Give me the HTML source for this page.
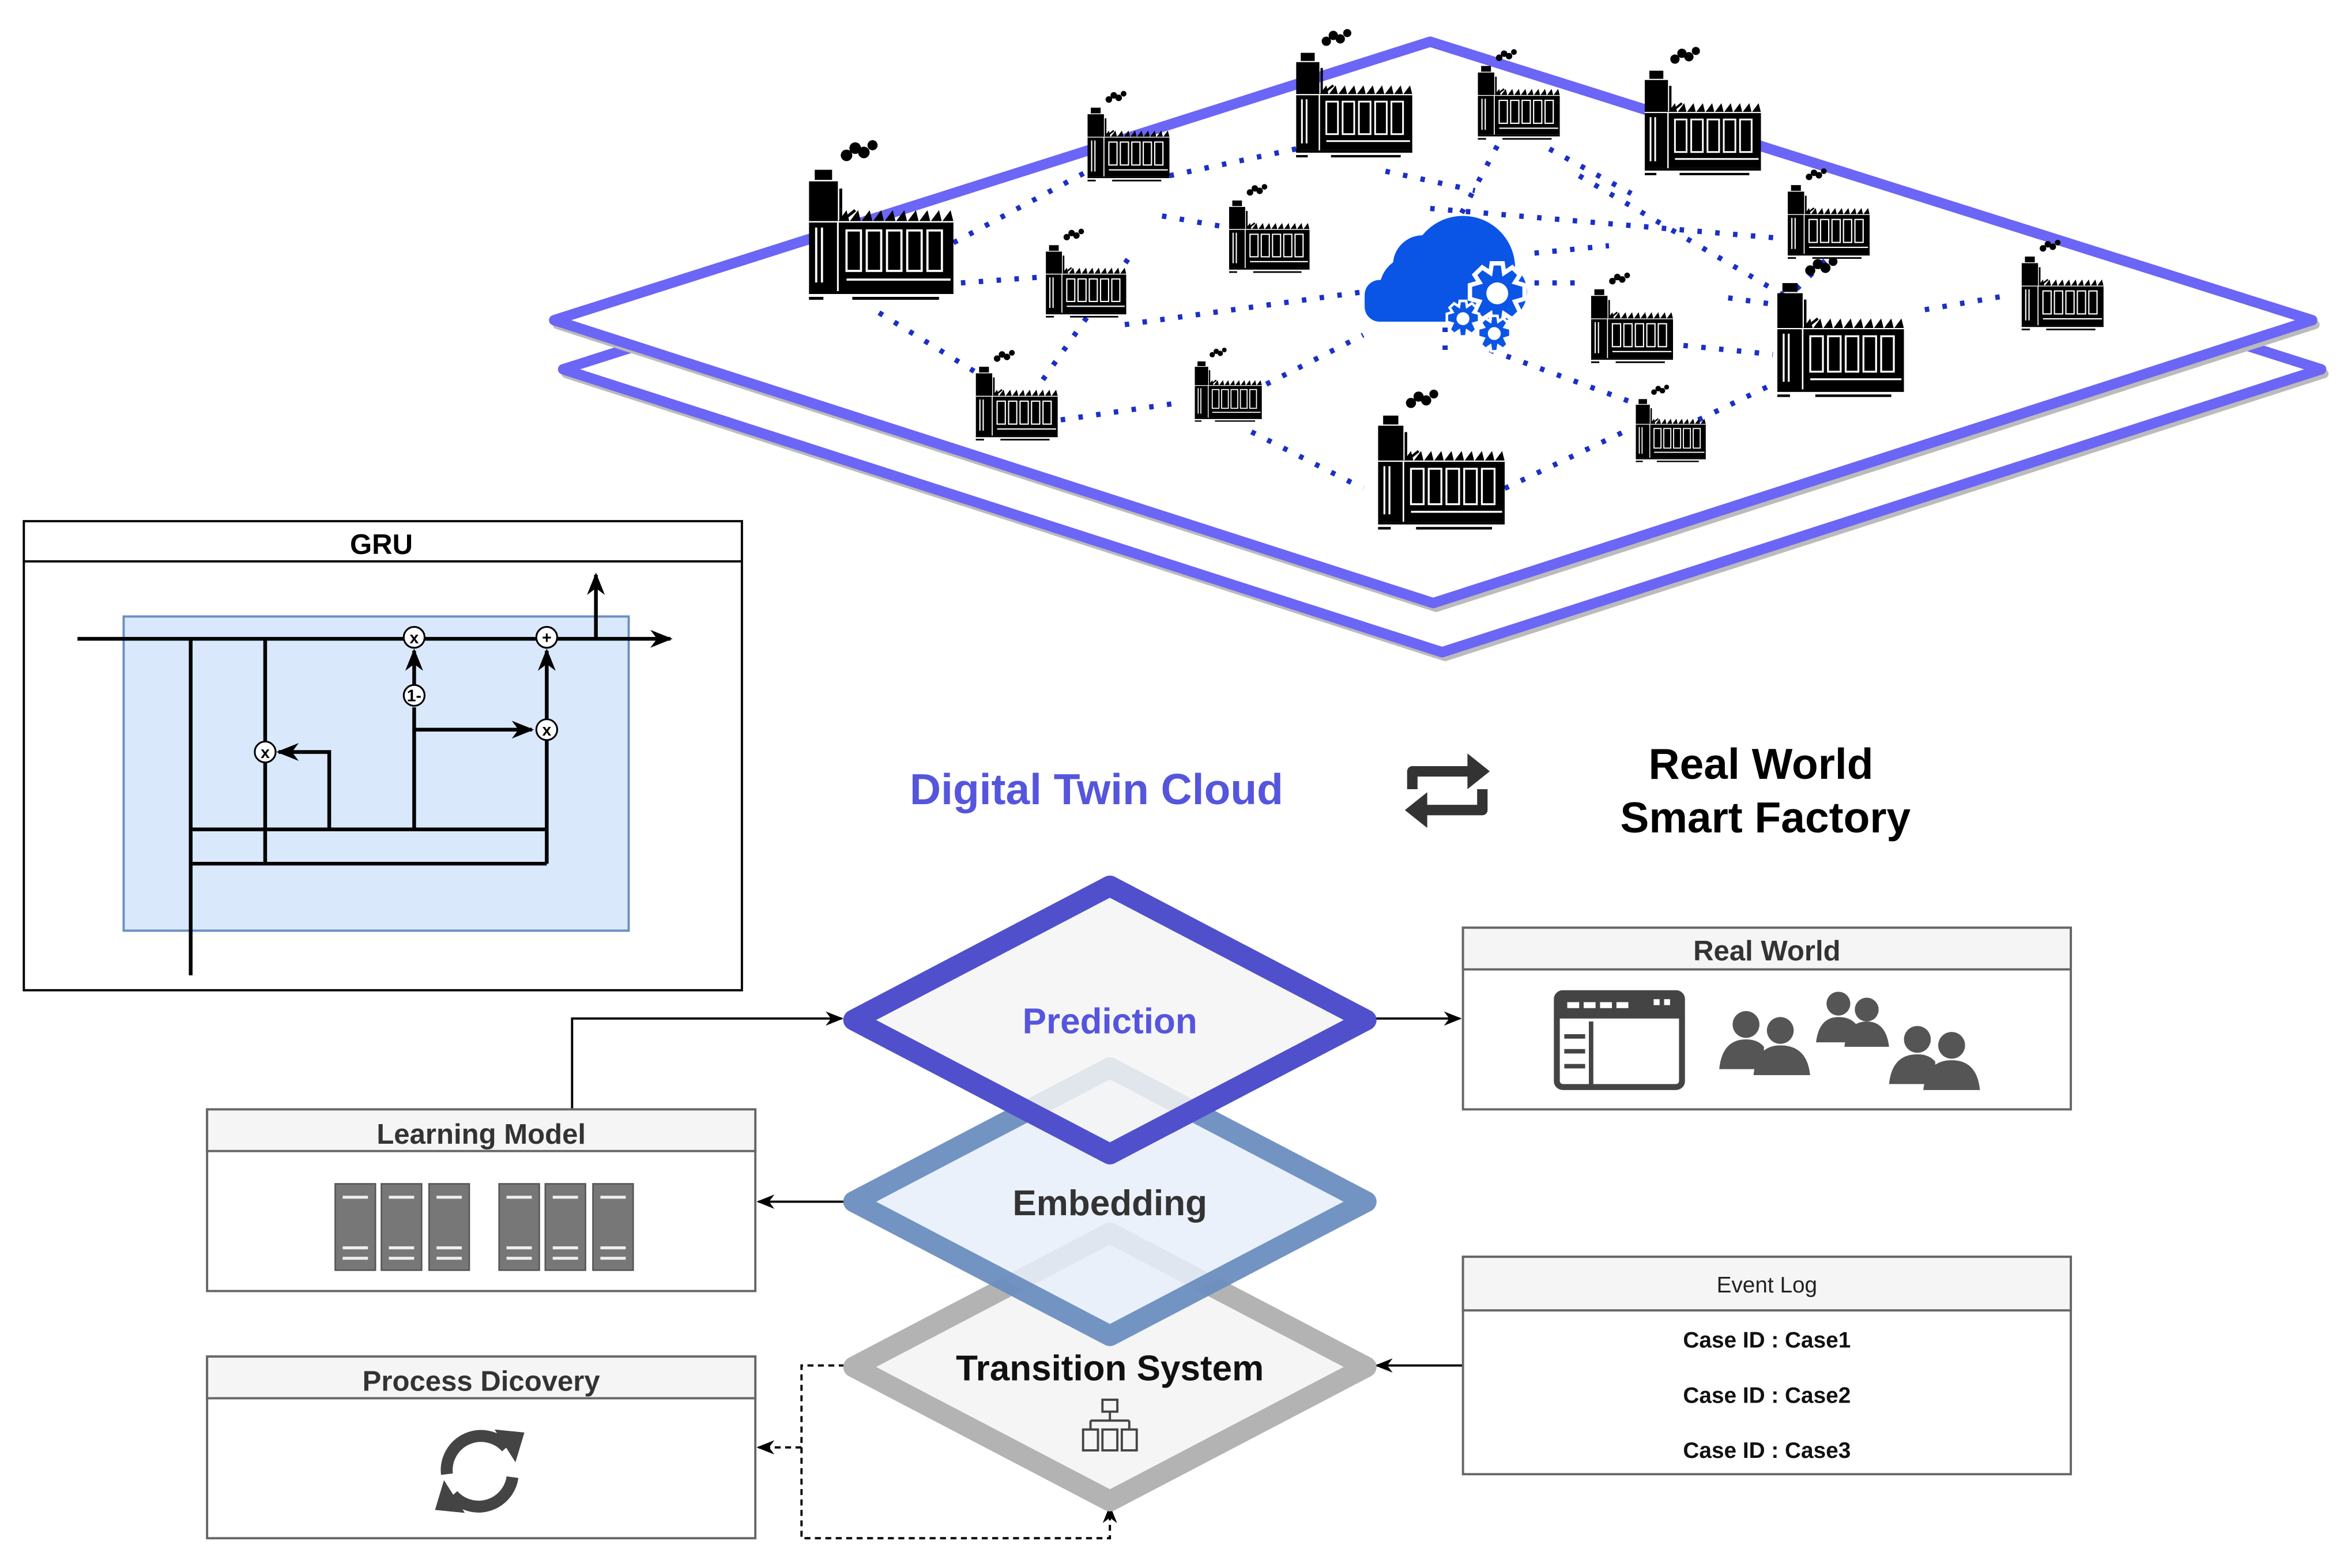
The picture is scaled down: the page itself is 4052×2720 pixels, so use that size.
<!DOCTYPE html>
<html><head><meta charset="utf-8"><style>
html,body{margin:0;padding:0;background:#fff;}
svg{display:block;}
text{font-family:"Liberation Sans",Arial,sans-serif;}
</style></head><body>
<svg width="4052" height="2720" viewBox="0 0 1568 1053" preserveAspectRatio="none" xmlns="http://www.w3.org/2000/svg">
<defs>
<symbol id="f" viewBox="0 0 100 112">
<circle cx="26" cy="12" r="4"/><circle cx="32" cy="7" r="4"/><circle cx="38" cy="10" r="4"/><circle cx="44" cy="5" r="3.5"/>
<rect x="4" y="22" width="12" height="7"/>
<rect x="0" y="30" width="20" height="76"/>
<polyline points="22,35 22,58 32,50" fill="none" stroke="#000" stroke-width="2"/>
<polygon points="20,58 26,50 28,58 34,50 36,58 42,50 44,58 50,50 52,58 58,50 60,58 66,50 68,58 74,50 76,58 82,50 84,58 90,50 92,58 98,50 100,58"/>
<rect x="20" y="58" width="80" height="48"/>
<line x1="20" y1="58" x2="20" y2="106" stroke="#fff" stroke-width="1.2"/>
<line x1="0" y1="58" x2="100" y2="58" stroke="#fff" stroke-width="1"/>
<g fill="none" stroke="#fff" stroke-width="1.5">
<rect x="26" y="64" width="10" height="28"/><rect x="40" y="64" width="10" height="28"/><rect x="54" y="64" width="10" height="28"/><rect x="68" y="64" width="10" height="28"/><rect x="82" y="64" width="10" height="28"/>
<line x1="26" y1="98" x2="98" y2="98"/><line x1="5" y1="62" x2="5" y2="100"/><line x1="9" y1="62" x2="9" y2="100"/>
</g>
<rect x="-12" y="106" width="122" height="2"/><rect x="-15" y="110" width="25" height="2"/><rect x="30" y="110" width="60" height="2"/>
</symbol>
<symbol id="g" viewBox="-12 -12 24 24">
<g fill="#0a55e6" stroke="#fff" stroke-width="1.6">
<path d="M-2,-11 L2,-11 L2.5,-7.5 L5.5,-9.5 L8.3,-6.8 L6.5,-4 L10,-3 L10,2 L6.5,3 L8.3,6.8 L5.5,9.5 L2.5,7.5 L2,11 L-2,11 L-2.5,7.5 L-5.5,9.5 L-8.3,6.8 L-6.5,3 L-10,2 L-10,-3 L-6.5,-4 L-8.3,-6.8 L-5.5,-9.5 L-2.5,-7.5 Z"/>
<circle cx="0" cy="0" r="4" fill="#fff" stroke="none"/>
</g>
</symbol>
<marker id="a" viewBox="0 0 10 10" refX="9" refY="5" markerWidth="8" markerHeight="8" orient="auto"><path d="M0,1 L10,5 L0,9 L3,5z" fill="#000"/></marker>
<marker id="b" viewBox="0 0 10 10" refX="9" refY="5" markerWidth="6" markerHeight="6" orient="auto"><path d="M0,1 L10,5 L0,9 L3,5z" fill="#000"/></marker>
</defs>

<!-- planes -->
<path d="M378,248 L968,60 L1558,248 L968,438 Z" fill="none" stroke="#bbb" stroke-width="6" stroke-linejoin="round" transform="translate(2,3)"/>
<path d="M378,248 L968,60 L1558,248 L968,438 Z" fill="#fff" stroke="#6b66f5" stroke-width="7" stroke-linejoin="round"/>
<path d="M372,215 L960,28 L1552,215 L962,405 Z" fill="none" stroke="#bbb" stroke-width="6" stroke-linejoin="round" transform="translate(2,3)"/>
<path d="M372,215 L960,28 L1552,215 L962,405 Z" fill="#fff" stroke="#6b66f5" stroke-width="7" stroke-linejoin="round"/>

<!-- dotted lines -->
<g stroke="#1a2fc8" stroke-width="3.5" stroke-dasharray="3,9" fill="none">
<line x1="640" y1="163" x2="730" y2="115"/>
<line x1="785" y1="118" x2="870" y2="100"/>
<line x1="645" y1="190" x2="700" y2="186"/>
<line x1="590" y1="210" x2="655" y2="250"/>
<line x1="755" y1="218" x2="915" y2="196"/>
<line x1="780" y1="145" x2="820" y2="152"/>
<line x1="712" y1="282" x2="795" y2="270"/>
<line x1="700" y1="255" x2="760" y2="170"/>
<line x1="850" y1="258" x2="915" y2="225"/>
<line x1="840" y1="290" x2="915" y2="328"/>
<line x1="1010" y1="328" x2="1090" y2="290"/>
<line x1="970" y1="235" x2="970" y2="215"/>
<line x1="930" y1="115" x2="990" y2="128"/>
<line x1="1005" y1="98" x2="980" y2="145"/>
<line x1="1040" y1="100" x2="1095" y2="130"/>
<line x1="960" y1="140" x2="1195" y2="160"/>
<line x1="1030" y1="170" x2="1080" y2="165"/>
<line x1="1060" y1="118" x2="1200" y2="200"/>
<line x1="1030" y1="190" x2="1065" y2="190"/>
<line x1="1000" y1="235" x2="1095" y2="270"/>
<line x1="1130" y1="232" x2="1190" y2="238"/>
<line x1="1140" y1="282" x2="1190" y2="258"/>
<line x1="1225" y1="175" x2="1205" y2="195"/>
<line x1="1292" y1="208" x2="1350" y2="198"/>
<line x1="1160" y1="200" x2="1195" y2="205"/>
</g>

<!-- factories -->
<use href="#f" x="543" y="88" width="97" height="118"/>
<use href="#f" x="730" y="58" width="55" height="66"/>
<use href="#f" x="870" y="14" width="78" height="96"/>
<use href="#f" x="992" y="30" width="55" height="66"/>
<use href="#f" x="1104" y="26" width="78" height="96"/>
<use href="#f" x="1200" y="110" width="55" height="66"/>
<use href="#f" x="1357" y="158" width="55" height="66"/>
<use href="#f" x="702" y="150" width="54" height="66"/>
<use href="#f" x="825" y="120" width="54" height="66"/>
<use href="#f" x="655" y="232" width="55" height="66"/>
<use href="#f" x="802" y="232" width="45" height="52"/>
<use href="#f" x="925" y="255" width="85" height="106"/>
<use href="#f" x="1068" y="180" width="55" height="66"/>
<use href="#f" x="1193" y="168" width="85" height="102"/>
<use href="#f" x="1098" y="255" width="47" height="58"/>

<!-- cloud -->
<g fill="#0a55e6">
<circle cx="948" cy="194" r="22"/><circle cx="982" cy="180" r="35"/><circle cx="955" cy="178" r="20"/>
<rect x="916" y="188" width="90" height="28" rx="10"/>
<circle cx="1005" cy="196" r="20"/>
</g>
<use href="#g" x="983" y="175" width="44" height="44"/>
<use href="#g" x="969" y="201" width="26" height="26"/>
<use href="#g" x="990" y="211" width="26" height="26"/>

<!-- GRU -->
<rect x="16" y="350" width="482" height="315" fill="#fff" stroke="#000" stroke-width="1.5"/>
<line x1="16" y1="377" x2="498" y2="377" stroke="#000" stroke-width="1.5"/>
<text x="256" y="372" font-size="19" font-weight="bold" text-anchor="middle">GRU</text>
<rect x="83" y="414" width="339" height="211" fill="#dae8fc" stroke="#6c8ebf" stroke-width="1.5"/>
<g stroke="#000" stroke-width="2.5" fill="none">
<line x1="52" y1="429" x2="450" y2="429" marker-end="url(#b)"/>
<line x1="400" y1="429" x2="400" y2="386" marker-end="url(#b)"/>
<line x1="128" y1="429" x2="128" y2="655"/>
<line x1="178" y1="429" x2="178" y2="580"/>
<line x1="128" y1="557" x2="367" y2="557"/>
<line x1="128" y1="580" x2="367" y2="580"/>
<line x1="367" y1="580" x2="367" y2="437" marker-end="url(#b)"/>
<line x1="278" y1="557" x2="278" y2="475"/>
<line x1="278" y1="460" x2="278" y2="437" marker-end="url(#b)"/>
<line x1="278" y1="490" x2="357" y2="490" marker-end="url(#b)"/>
<polyline points="221,557 221,505 187,505" marker-end="url(#b)"/>
</g>
<g fill="#fff" stroke="#000" stroke-width="1.2">
<circle cx="278" cy="428" r="7"/><circle cx="367" cy="428" r="7"/><circle cx="278" cy="467" r="7"/><circle cx="367" cy="490" r="7"/><circle cx="178" cy="505" r="7"/>
</g>
<g font-size="11" font-weight="bold" text-anchor="middle">
<text x="278" y="432">x</text><text x="367" y="432">+</text><text x="278" y="471">1-</text><text x="367" y="494">x</text><text x="178" y="509">x</text>
</g>

<!-- titles -->
<text x="736" y="540" font-size="29" font-weight="bold" fill="#5555dd" text-anchor="middle">Digital Twin Cloud</text>
<text x="1182" y="523" font-size="29" font-weight="bold" text-anchor="middle">Real World</text>
<text x="1185" y="559" font-size="29" font-weight="bold" text-anchor="middle">Smart Factory</text>
<g stroke="#333" stroke-width="7" fill="none" stroke-linejoin="round">
<path d="M948,530 L948,518 L988,518"/><path d="M995,530 L995,544 L955,544"/>
</g>
<polygon points="985,506 1000,518 985,530" fill="#333"/>
<polygon points="958,532 943,544 958,556" fill="#333"/>

<!-- connectors -->
<g stroke="#000" stroke-width="1.5" fill="none">
<polyline points="384,745 384,684 565,684" marker-end="url(#a)"/>
<line x1="920" y1="684" x2="980" y2="684" marker-end="url(#a)"/>
<line x1="567" y1="807" x2="509" y2="807" marker-end="url(#a)"/>
<line x1="982" y1="917" x2="924" y2="917" marker-end="url(#a)"/>
<g stroke-dasharray="4,3">
<polyline points="567,917 538,917 538,1033 745,1033 745,1012" marker-end="url(#a)"/>
<line x1="538" y1="972" x2="509" y2="972" marker-end="url(#a)"/>
</g>
</g>

<!-- diamonds -->
<path d="M573,918 L745,828 L917,918 L745,1008 Z" fill="#f5f5f5" stroke="#b3b3b3" stroke-width="14" stroke-linejoin="round"/>
<path d="M573,807 L745,717 L917,807 L745,897 Z" fill="#e8eefa" fill-opacity="0.85" stroke="#6c8ebf" stroke-width="14" stroke-linejoin="round" stroke-opacity="0.95"/>
<path d="M573,685 L745,595 L917,685 L745,775 Z" fill="#f5f5f5" fill-opacity="0.85" stroke="#5050cc" stroke-width="14" stroke-linejoin="round"/>
<text x="745" y="694" font-size="24" font-weight="bold" fill="#5555dd" text-anchor="middle">Prediction</text>
<text x="745" y="816" font-size="24" font-weight="bold" fill="#333" text-anchor="middle">Embedding</text>
<text x="745" y="927" font-size="24" font-weight="bold" fill="#111" text-anchor="middle">Transition System</text>
<g fill="none" stroke="#444" stroke-width="1.5">
<rect x="740" y="940" width="10" height="8"/><line x1="745" y1="948" x2="745" y2="954"/><line x1="732" y1="954" x2="758" y2="954"/>
<line x1="732" y1="954" x2="732" y2="960"/><line x1="758" y1="954" x2="758" y2="960"/>
<rect x="727" y="960" width="10" height="14"/><rect x="740" y="960" width="10" height="14"/><rect x="753" y="960" width="10" height="14"/>
</g>

<!-- Real World box -->
<rect x="982" y="623" width="408" height="122" fill="#fff" stroke="#666" stroke-width="1.5"/>
<rect x="982" y="623" width="408" height="28" fill="#f5f5f5" stroke="#666" stroke-width="1.5"/>
<text x="1186" y="645" font-size="19" font-weight="bold" fill="#333" text-anchor="middle">Real World</text>
<rect x="1045" y="667" width="84" height="63" rx="4" fill="none" stroke="#444" stroke-width="4"/>
<rect x="1045" y="667" width="84" height="17" fill="#444"/>
<g fill="#fff"><rect x="1052" y="673" width="8" height="4"/><rect x="1063" y="673" width="8" height="4"/><rect x="1074" y="673" width="8" height="4"/><rect x="1085" y="673" width="8" height="4"/><rect x="1110" y="671" width="4" height="4"/><rect x="1117" y="671" width="4" height="4"/></g>
<g stroke="#444" stroke-width="3"><line x1="1068" y1="686" x2="1068" y2="728"/><line x1="1050" y1="696" x2="1064" y2="696"/><line x1="1050" y1="706" x2="1064" y2="706"/><line x1="1050" y1="716" x2="1064" y2="716"/></g>
<g fill="#555">
<circle cx="1172" cy="688" r="9"/><path d="M1154,718 Q1156,698 1172,698 Q1180,698 1184,703 L1184,718 Z"/>
<circle cx="1195" cy="692" r="9"/><path d="M1177,722 Q1179,702 1195,702 Q1213,702 1215,722 Z"/>
<circle cx="1234" cy="674" r="8"/><path d="M1219,700 Q1221,683 1234,683 Q1242,683 1246,688 L1246,700 Z"/>
<circle cx="1253" cy="678" r="8"/><path d="M1238,703 Q1240,686 1253,686 Q1266,686 1268,703 Z"/>
<circle cx="1287" cy="698" r="9"/><path d="M1268,728 Q1270,708 1287,708 Q1295,708 1299,713 L1299,728 Z"/>
<circle cx="1310" cy="702" r="9"/><path d="M1291,732 Q1293,712 1310,712 Q1327,712 1329,732 Z"/>
</g>

<!-- Learning Model -->
<rect x="139" y="745" width="368" height="122" fill="#fff" stroke="#666" stroke-width="1.5"/>
<rect x="139" y="745" width="368" height="28" fill="#f5f5f5" stroke="#666" stroke-width="1.5"/>
<text x="323" y="768" font-size="19" font-weight="bold" fill="#333" text-anchor="middle">Learning Model</text>
<g fill="#777" stroke="#555" stroke-width="1">
<rect x="225" y="795" width="27" height="58"/><rect x="256" y="795" width="27" height="58"/><rect x="288" y="795" width="27" height="58"/>
<rect x="335" y="795" width="27" height="58"/><rect x="366" y="795" width="27" height="58"/><rect x="398" y="795" width="27" height="58"/>
</g>
<g stroke="#eee" stroke-width="2">
<line x1="230" y1="804" x2="247" y2="804"/><line x1="261" y1="804" x2="278" y2="804"/><line x1="293" y1="804" x2="310" y2="804"/><line x1="340" y1="804" x2="357" y2="804"/><line x1="371" y1="804" x2="388" y2="804"/><line x1="403" y1="804" x2="420" y2="804"/>
<line x1="230" y1="838" x2="247" y2="838"/><line x1="261" y1="838" x2="278" y2="838"/><line x1="293" y1="838" x2="310" y2="838"/><line x1="340" y1="838" x2="357" y2="838"/><line x1="371" y1="838" x2="388" y2="838"/><line x1="403" y1="838" x2="420" y2="838"/>
<line x1="230" y1="845" x2="247" y2="845"/><line x1="261" y1="845" x2="278" y2="845"/><line x1="293" y1="845" x2="310" y2="845"/><line x1="340" y1="845" x2="357" y2="845"/><line x1="371" y1="845" x2="388" y2="845"/><line x1="403" y1="845" x2="420" y2="845"/>
</g>

<!-- Process Dicovery -->
<rect x="139" y="911" width="368" height="122" fill="#fff" stroke="#666" stroke-width="1.5"/>
<rect x="139" y="911" width="368" height="28" fill="#f5f5f5" stroke="#666" stroke-width="1.5"/>
<text x="323" y="934" font-size="19" font-weight="bold" fill="#333" text-anchor="middle">Process Dicovery</text>
<g fill="none" stroke="#444" stroke-width="8">
<path d="M300,990 A23,23 0 0 1 340,972"/><path d="M344,992 A23,23 0 0 1 304,1004"/>
</g>
<polygon points="332,960 352,962 346,982" fill="#444"/><polygon points="312,1016 292,1014 298,994" fill="#444"/>

<!-- Event Log -->
<rect x="982" y="844" width="408" height="146" fill="#fff" stroke="#666" stroke-width="1.5"/>
<rect x="982" y="844" width="408" height="36" fill="#f5f5f5" stroke="#666" stroke-width="1.5"/>
<text x="1186" y="868" font-size="15" fill="#222" text-anchor="middle">Event Log</text>
<g font-size="15" font-weight="bold" text-anchor="middle" fill="#111">
<text x="1186" y="905">Case ID : Case1</text>
<text x="1186" y="942">Case ID : Case2</text>
<text x="1186" y="979">Case ID : Case3</text>
</g>
</svg>
</body></html>
